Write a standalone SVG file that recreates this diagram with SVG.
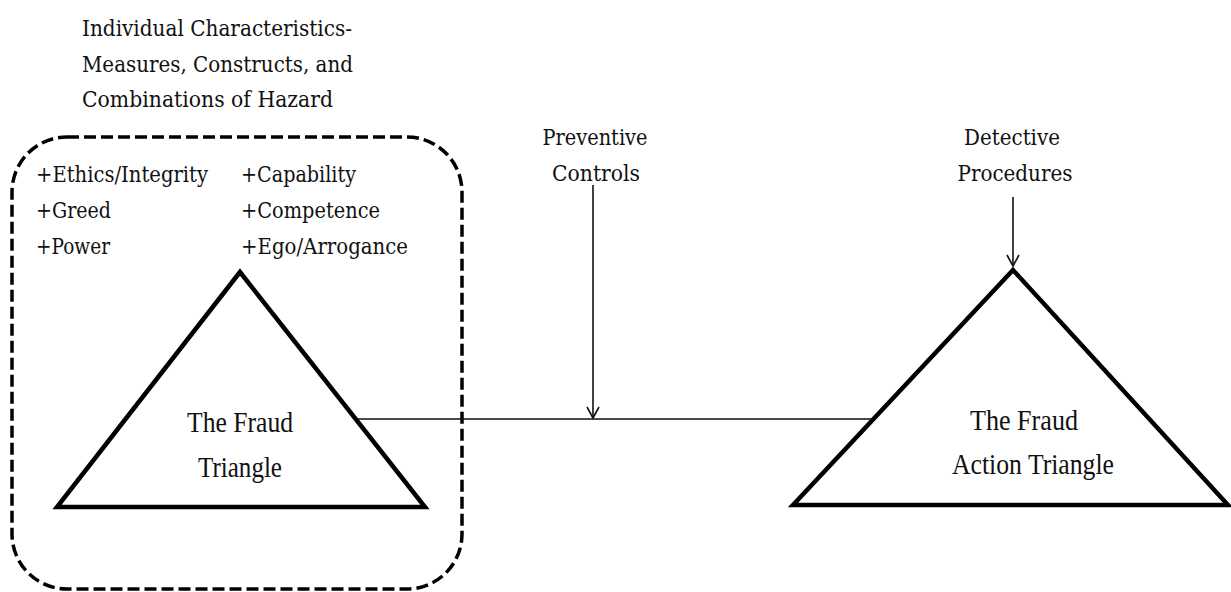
<svg xmlns="http://www.w3.org/2000/svg" width="1231" height="592" viewBox="0 0 1231 592">
  <style>
    .label { font-family: "DejaVu Serif", "Liberation Serif", serif; font-size: 23px; fill: #111; }
    .tri-label { font-family: "Liberation Serif", "Times New Roman", serif; font-size: 29px; fill: #111; text-anchor: middle; }
    .tri { fill: none; stroke: #000; stroke-width: 4.5; stroke-linejoin: miter; }
    .link { fill: none; stroke: #111; stroke-width: 1.6; }
    .frame { fill: none; stroke: #000; stroke-width: 3.5; stroke-dasharray: 12 5; }
  </style>
  <defs>
    <!-- open "V" arrowhead, drawn pointing along +x -->
    <marker id="openArrow" markerWidth="14" markerHeight="14" refX="12" refY="7" orient="auto" markerUnits="userSpaceOnUse" viewBox="0 0 14 14">
      <path d="M1 1 L12 7 L1 13" fill="none" stroke="#111" stroke-width="1.6"/>
    </marker>
  </defs>

  <rect width="1231" height="592" fill="#fff"/>

  <!-- Hazard characteristics heading -->
  <g id="hazard-heading">
    <text class="label" x="82" y="36" textLength="270" lengthAdjust="spacingAndGlyphs">Individual Characteristics-</text>
    <text class="label" x="82" y="72" textLength="271" lengthAdjust="spacingAndGlyphs">Measures, Constructs, and</text>
    <text class="label" x="82" y="107" textLength="251" lengthAdjust="spacingAndGlyphs">Combinations of Hazard</text>
  </g>

  <!-- Individual characteristics grouping with the fraud triangle -->
  <g id="characteristics-box">
    <rect class="frame" x="12" y="137" width="450" height="452" rx="55" ry="55"/>
    <text class="label" x="36" y="182" textLength="172" lengthAdjust="spacingAndGlyphs">+Ethics/Integrity</text>
    <text class="label" x="36" y="218" textLength="75" lengthAdjust="spacingAndGlyphs">+Greed</text>
    <text class="label" x="36" y="254" textLength="74" lengthAdjust="spacingAndGlyphs">+Power</text>
    <text class="label" x="241" y="182" textLength="115" lengthAdjust="spacingAndGlyphs">+Capability</text>
    <text class="label" x="241" y="218" textLength="139" lengthAdjust="spacingAndGlyphs">+Competence</text>
    <text class="label" x="241" y="254" textLength="167" lengthAdjust="spacingAndGlyphs">+Ego/Arrogance</text>
  </g>

  <g id="fraud-triangle">
    <polygon class="tri" points="240,272 57,507 425,507"/>
    <text class="tri-label" x="240" y="432" textLength="106" lengthAdjust="spacingAndGlyphs">The Fraud</text>
    <text class="tri-label" x="240" y="477" textLength="84" lengthAdjust="spacingAndGlyphs">Triangle</text>
  </g>

  <g id="fraud-action-triangle">
    <polygon class="tri" points="1013,270 793,505 1228,505"/>
    <text class="tri-label" x="1024" y="430" textLength="108" lengthAdjust="spacingAndGlyphs">The Fraud</text>
    <text class="tri-label" x="1033" y="474" textLength="162" lengthAdjust="spacingAndGlyphs">Action Triangle</text>
  </g>

  <g id="preventive-controls">
    <text class="label" x="595" y="145" text-anchor="middle" textLength="105" lengthAdjust="spacingAndGlyphs">Preventive</text>
    <text class="label" x="596" y="181" text-anchor="middle" textLength="88" lengthAdjust="spacingAndGlyphs">Controls</text>
  </g>

  <g id="detective-procedures">
    <text class="label" x="1012" y="145" text-anchor="middle" textLength="96" lengthAdjust="spacingAndGlyphs">Detective</text>
    <text class="label" x="1015" y="181" text-anchor="middle" textLength="115" lengthAdjust="spacingAndGlyphs">Procedures</text>
  </g>

  <!-- Connectors -->
  <g id="connectors">
    <line class="link" x1="358" y1="419" x2="872" y2="419"/>
    <line class="link" x1="593" y1="185" x2="593" y2="418" marker-end="url(#openArrow)"/>
    <line class="link" x1="1013" y1="197" x2="1013" y2="266" marker-end="url(#openArrow)"/>
  </g>
</svg>
